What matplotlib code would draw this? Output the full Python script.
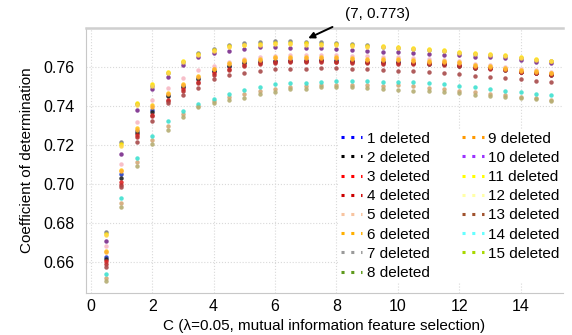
import numpy as np
import matplotlib
matplotlib.use("Agg")
import matplotlib.pyplot as plt
from matplotlib.lines import Line2D

plt.rcParams['font.family'] = ['Liberation Sans', 'DejaVu Sans']

# C values (0.5 .. 15 step 0.5)
c_vals = [0.5, 1.0, 1.5, 2.0, 2.5, 3.0, 3.5, 4.0, 4.5, 5.0, 5.5, 6.0, 6.5, 7.0, 7.5,
          8.0, 8.5, 9.0, 9.5, 10.0, 10.5, 11.0, 11.5, 12.0, 12.5, 13.0, 13.5, 14.0, 14.5, 15.0]

# coefficient of determination per number of deleted features
del1 = [0.6627, 0.7051, 0.7272, 0.7380, 0.7455, 0.7503, 0.7542, 0.7582, 0.7608, 0.7625,
        0.7630, 0.7634, 0.7636, 0.7636, 0.7637, 0.7636, 0.7632, 0.7628, 0.7626, 0.7626,
        0.7622, 0.7620, 0.7617, 0.7610, 0.7600, 0.7597, 0.7588, 0.7577, 0.7572, 0.7564]
del2 = [0.6615, 0.7032, 0.7263, 0.7370, 0.7450, 0.7499, 0.7537, 0.7579, 0.7605, 0.7622,
        0.7627, 0.7631, 0.7634, 0.7634, 0.7635, 0.7633, 0.7630, 0.7626, 0.7624, 0.7624,
        0.7620, 0.7618, 0.7615, 0.7608, 0.7598, 0.7595, 0.7586, 0.7575, 0.7570, 0.7562]
del3 = [0.6605, 0.7010, 0.7251, 0.7357, 0.7434, 0.7486, 0.7525, 0.7568, 0.7591, 0.7610,
        0.7619, 0.7626, 0.7631, 0.7631, 0.7633, 0.7628, 0.7627, 0.7624, 0.7622, 0.7622,
        0.7619, 0.7619, 0.7619, 0.7610, 0.7600, 0.7597, 0.7588, 0.7577, 0.7572, 0.7564]
del4 = [0.6590, 0.6998, 0.7240, 0.7348, 0.7425, 0.7478, 0.7518, 0.7560, 0.7585, 0.7604,
        0.7614, 0.7621, 0.7626, 0.7627, 0.7628, 0.7625, 0.7623, 0.7620, 0.7618, 0.7618,
        0.7615, 0.7614, 0.7612, 0.7605, 0.7596, 0.7593, 0.7584, 0.7573, 0.7568, 0.7560]
del5 = [0.6684, 0.7104, 0.7320, 0.7430, 0.7494, 0.7545, 0.7585, 0.7607, 0.7627, 0.7640,
        0.7650, 0.7657, 0.7662, 0.7662, 0.7664, 0.7662, 0.7659, 0.7656, 0.7652, 0.7650,
        0.7645, 0.7642, 0.7638, 0.7630, 0.7615, 0.7610, 0.7602, 0.7590, 0.7585, 0.7576]
del6 = [0.6658, 0.7072, 0.7286, 0.7405, 0.7468, 0.7511, 0.7554, 0.7593, 0.7622, 0.7636,
        0.7643, 0.7650, 0.7650, 0.7650, 0.7650, 0.7650, 0.7645, 0.7640, 0.7640, 0.7640,
        0.7636, 0.7633, 0.7631, 0.7624, 0.7610, 0.7605, 0.7597, 0.7585, 0.7580, 0.7572]
del7 = [0.6755, 0.7217, 0.7410, 0.7505, 0.7572, 0.7628, 0.7670, 0.7695, 0.7716, 0.7725,
        0.7730, 0.7732, 0.7733, 0.7730, 0.7728, 0.7725, 0.7719, 0.7712, 0.7705, 0.7699,
        0.7692, 0.7688, 0.7682, 0.7674, 0.7665, 0.7660, 0.7655, 0.7645, 0.7636, 0.7629]
del8 = [0.6520, 0.6905, 0.7112, 0.7225, 0.7300, 0.7358, 0.7400, 0.7426, 0.7447, 0.7462,
        0.7478, 0.7490, 0.7500, 0.7502, 0.7508, 0.7510, 0.7509, 0.7508, 0.7502, 0.7506,
        0.7502, 0.7495, 0.7487, 0.7478, 0.7470, 0.7462, 0.7455, 0.7447, 0.7440, 0.7433]
del9 = [0.6650, 0.7065, 0.7280, 0.7398, 0.7462, 0.7506, 0.7550, 0.7588, 0.7616, 0.7631,
        0.7638, 0.7645, 0.7646, 0.7646, 0.7646, 0.7645, 0.7641, 0.7636, 0.7636, 0.7635,
        0.7632, 0.7628, 0.7626, 0.7620, 0.7605, 0.7602, 0.7593, 0.7581, 0.7576, 0.7568]
del10 = [0.6709, 0.7156, 0.7379, 0.7487, 0.7550, 0.7610, 0.7653, 0.7673, 0.7682, 0.7692,
         0.7701, 0.7701, 0.7699, 0.7699, 0.7696, 0.7692, 0.7687, 0.7684, 0.7679, 0.7679,
         0.7670, 0.7667, 0.7664, 0.7662, 0.7653, 0.7650, 0.7645, 0.7636, 0.7627, 0.7622]
del11 = [0.6744, 0.7204, 0.7414, 0.7511, 0.7576, 0.7631, 0.7665, 0.7688, 0.7708, 0.7716,
         0.7720, 0.7722, 0.7722, 0.7722, 0.7720, 0.7718, 0.7713, 0.7708, 0.7706, 0.7701,
         0.7696, 0.7692, 0.7687, 0.7678, 0.7670, 0.7665, 0.7660, 0.7650, 0.7641, 0.7634]
del12 = [0.6740, 0.7198, 0.7408, 0.7505, 0.7570, 0.7625, 0.7660, 0.7683, 0.7703, 0.7711,
         0.7715, 0.7717, 0.7717, 0.7716, 0.7715, 0.7713, 0.7708, 0.7703, 0.7701, 0.7696,
         0.7691, 0.7687, 0.7682, 0.7673, 0.7665, 0.7660, 0.7655, 0.7645, 0.7636, 0.7629]
del13 = [0.6576, 0.6983, 0.7214, 0.7325, 0.7414, 0.7456, 0.7494, 0.7537, 0.7561, 0.7571,
         0.7579, 0.7588, 0.7590, 0.7593, 0.7597, 0.7598, 0.7593, 0.7588, 0.7585, 0.7581,
         0.7579, 0.7576, 0.7571, 0.7564, 0.7554, 0.7550, 0.7545, 0.7538, 0.7530, 0.7525]
del14 = [0.6538, 0.6930, 0.7135, 0.7248, 0.7323, 0.7374, 0.7410, 0.7436, 0.7463, 0.7482,
         0.7499, 0.7511, 0.7520, 0.7520, 0.7525, 0.7530, 0.7530, 0.7530, 0.7525, 0.7525,
         0.7525, 0.7520, 0.7513, 0.7504, 0.7496, 0.7486, 0.7478, 0.7470, 0.7462, 0.7456]
del15 = [0.6504, 0.6884, 0.7092, 0.7205, 0.7280, 0.7345, 0.7393, 0.7417, 0.7431, 0.7443,
         0.7460, 0.7473, 0.7486, 0.7486, 0.7496, 0.7496, 0.7496, 0.7491, 0.7486, 0.7482,
         0.7478, 0.7478, 0.7470, 0.7465, 0.7456, 0.7453, 0.7448, 0.7440, 0.7435, 0.7427]

series = [del1, del2, del3, del4, del5, del6, del7, del8, del9, del10,
          del11, del12, del13, del14, del15]
labels = [f"{i} deleted" for i in range(1, 16)]

# marker colours as they appear among the points
marker_colors = ['#2a3fc0', '#222222', '#e02424', '#b83030', '#f7b8c4', '#ffc61a',
                 '#7f7f7f', '#d3a877', '#ffb030', '#7a2c8c', '#ffe400', '#ffd84a',
                 '#a84a4a', '#3fe0d0', '#b5ad72']
# line colours used in the legend
legend_colors = ['#0000ff', '#000000', '#ff0000', '#cc0000', '#f8c4a0', '#ffb000',
                 '#9a9a9a', '#5e9a1c', '#ff9900', '#9933ff', '#ffff00', '#ffffa8',
                 '#a0522d', '#66ffff', '#a8d800']

fig = plt.figure(figsize=(5.72, 3.35), dpi=100)
ax = fig.add_axes([0.150, 0.125, 0.834, 0.791])

for ys, mc in zip(series, marker_colors):
    ax.plot(c_vals, ys, linestyle='none', marker='o', ms=3.2, mec='none',
            mfc=mc, alpha=0.9, zorder=3)

ax.set_xlim(-0.16, 15.37)
ax.set_ylim(0.6441, 0.780)
ax.set_xticks([0, 2, 4, 6, 8, 10, 12, 14])
ax.set_yticks([0.66, 0.68, 0.70, 0.72, 0.74, 0.76])
ax.set_yticklabels([f"{v:.2f}" for v in [0.66, 0.68, 0.70, 0.72, 0.74, 0.76]])
ax.tick_params(labelsize=11.5, length=0)
ax.tick_params(axis='x', pad=4)
ax.tick_params(axis='y', pad=8)
ax.grid(True, color='#d9d9d9', linestyle=':', linewidth=0.8, zorder=0)
for s in ['left', 'bottom']:
    ax.spines[s].set_color('#c8c8c8')
ax.spines['top'].set_color('#cfcfcf')
ax.spines['top'].set_linewidth(1.8)
ax.spines['right'].set_visible(False)

ax.set_xlabel("C (\u03bb=0.05, mutual information feature selection)", fontsize=11, labelpad=4)
ax.set_ylabel("Coefficient of determination", fontsize=11, labelpad=7)

ax.text(9.35, 0.7875, "(7, 0.773)", fontsize=11, ha='center', va='center')
ax.annotate("", xy=(7.08, 0.7748), xytext=(7.87, 0.7806), annotation_clip=False,
            arrowprops=dict(arrowstyle='-|>', color='black', lw=1.4,
                            mutation_scale=9, shrinkA=0, shrinkB=0))

handles = [Line2D([0], [0], color=lc, linestyle=(0, (1, 2.2)), linewidth=2.2)
           for lc in legend_colors]
leg = ax.legend(handles, labels, ncol=2, loc='upper left',
                bbox_to_anchor=(0.512, 0.65), fontsize=11, frameon=True,
                facecolor='white', edgecolor='none', framealpha=1,
                handlelength=1.4, handletextpad=0.3, columnspacing=2.15,
                labelspacing=0.34, borderpad=0.2)
leg.set_zorder(5)

fig.savefig("out.png", dpi=100)
